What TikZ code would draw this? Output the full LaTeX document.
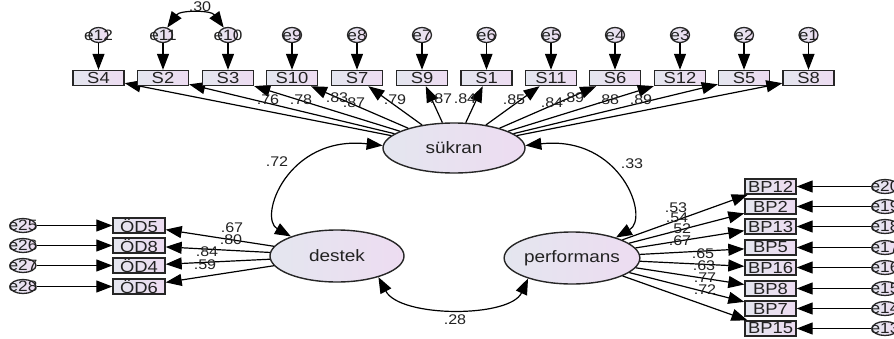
\documentclass[tikz,border=0pt]{standalone}
\usepackage{fontspec}
\setmainfont{Liberation Sans}[FakeStretch=1.15]
\usetikzlibrary{arrows.meta,shapes.geometric}
\definecolor{lc}{HTML}{E4E6EF}
\definecolor{rc}{HTML}{EDDCF1}
\definecolor{tx}{HTML}{222222}
\begin{document}
\begin{tikzpicture}[x=1pt,y=-1pt,
 obs/.style={draw=black!85, line width=1.4pt, rectangle, minimum width=51pt, minimum height=15pt, inner sep=0pt, left color=lc, right color=rc, font=\fontsize{16}{16}\selectfont, text=tx},
 err/.style={draw=black!85, line width=1.3pt, ellipse, minimum width=19pt, minimum height=15pt, inner sep=0pt, left color=lc, right color=rc, label={[font=\fontsize{15}{15}\selectfont, text=tx, inner sep=0pt]center:#1}},
 serr/.style={err=#1, minimum width=26pt, minimum height=14pt},
 lat/.style={draw=black!85, line width=1.4pt, ellipse, inner sep=0pt, left color=lc, right color=rc, font=\fontsize{16.5}{16.5}\selectfont, text=tx},
 arr/.style={-{Triangle[length=16pt,width=12pt]}, line width=1.2pt},
 darr/.style={{Triangle[length=16pt,width=12pt]}-{Triangle[length=16pt,width=12pt]}, line width=1.2pt},
 lab/.style={font=\fontsize{14}{14}\selectfont, text=tx, inner sep=0pt}]
\useasboundingbox (0,0) rectangle (894,338);

% latent variables
\node[lat, minimum width=142pt, minimum height=50pt] (sukran) at (454,148) {sükran};
\node[lat, minimum width=134pt, minimum height=52pt] (destek) at (337,256) {destek};
\node[lat, minimum width=131pt, minimum height=52pt] (perf) at (572,258) {performans};

% top observed + errors
\foreach \n/\e/\x in {S4/e12/98.5, S2/e11/163, S3/e10/228, S10/e9/292, S7/e8/357, S9/e7/422, S1/e6/486.5, S11/e5/551, S6/e4/615, S12/e3/680, S5/e2/744, S8/e1/808.5}{
  \node[obs] (\n) at (\x,78) {\n};
  \node[err=\e] (\e) at (\x,35) {};
  \draw[arr] (\e) -- (\n);
  \draw[arr] (sukran) -- (\n);
}

% left observed + errors
\foreach \n/\t/\e/\y in {OD5/ÖD5/e25/225.5, OD8/ÖD8/e26/245.5, OD4/ÖD4/e27/265.5, OD6/ÖD6/e28/286.5}{
  \node[obs, minimum width=52pt] (\n) at (139,\y) {\t};
  \node[serr=\e] (\e) at (23,\y) {};
  \draw[arr] (\e) -- (\n);
  \draw[arr] (destek) -- (\n);
}

% right observed + errors
\foreach \n/\e/\y in {BP12/e20/186.5, BP2/e19/206.5, BP13/e18/226.5, BP5/e17/247.5, BP16/e16/267.5, BP8/e15/288.5, BP7/e14/308.5, BP15/e13/328.5}{
  \node[obs] (\n) at (770.5,\y) {\n};
  \node[serr=\e] (\e) at (885,\y) {};
  \draw[arr] (\e) -- (\n);
  \draw[arr] (perf) -- (\n);
}

% covariances
\draw[darr] (sukran.178) .. controls (287,135) and (258,218) .. (destek.157);
\draw[darr] (sukran.2) .. controls (621,135) and (650,218) .. (perf.25);
\draw[darr] (destek.-27) .. controls (400,318) and (510,318) .. (perf.205);
\draw[darr] (e11.60) .. controls (180,10) and (211,10) .. (e10.120);

% labels
\node[lab] (c30) at (200,7) {.30};
\node[lab] (c72) at (277,162) {.72};
\node[lab] (c33) at (632,164) {.33};
\node[lab] (c28) at (455,320) {.28};

\foreach \v/\x/\y [count=\i] in {.76/268/100, .78/301/100, .83/337/98, .87/354/103, .79/395/100, .87/441/99, .84/465/99, .85/514/100, .84/552/103, .89/573/98, .88/608/100, .89/641/100}{
  \node[lab] (t\i) at (\x,\y) {\v};
}
\foreach \v/\x/\y [count=\i] in {.67/232/228, .80/231/240, .84/207/252, .59/205/265}{
  \node[lab] (l\i) at (\x,\y) {\v};
}
\foreach \v/\x/\y [count=\i] in {.53/676/208, .54/677/218, .52/680/229, .67/680/241, .65/703/254, .63/704/266, .77/705/278, .72/705/290}{
  \node[lab] (r\i) at (\x,\y) {\v};
}
\end{tikzpicture}
\end{document}
